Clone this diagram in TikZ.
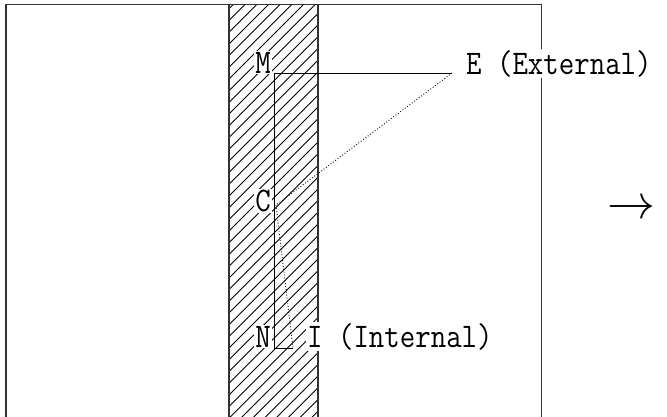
\documentclass[tikz,border=0pt]{standalone}
\usepackage{fontspec}
\begin{document}
\begin{tikzpicture}[x=1pt,y=-1pt,
  lbl/.style={font=\fontsize{30}{30}\selectfont\ttfamily, fill=white, inner sep=1pt, yscale=1.15},
  framestyle/.style={line width=1.5pt, draw=black!80},
  wire/.style={line width=1pt},
  dotwire/.style={line width=0.9pt, dotted},
  hatchline/.style={line width=0.9pt}]
\useasboundingbox (0,0) rectangle (667,416);
% hatched strip
\begin{scope}
  \clip (229,4.5) rectangle (318,430);
  \foreach \k in {-40,...,10} \draw[hatchline] (229+\k*11.7,430) -- ++(450,-450);
\end{scope}
% frame and strip borders
\draw[framestyle] (6,430) -- (6,4.5) -- (541.5,4.5) -- (541.5,430);
\draw[framestyle] (229,430) -- (229,4.5);
\draw[framestyle] (318,430) -- (318,4.5);
% points
\coordinate (M) at (274,73);
\coordinate (E) at (452,73);
\coordinate (N) at (274,348);
\coordinate (I) at (293,348);
\coordinate (C) at (276,205);
\draw[wire] (E) -- (M) -- (N) -- (I);
\draw[dotwire] (E) -- (C) -- (I);
% labels
\node[lbl, anchor=base east] (Ml) at (272,73) {M};
\node[lbl, anchor=east] (Cl) at (272,201) {C};
\node[lbl, anchor=base east] (Nl) at (272,347) {N};
\node[lbl, anchor=base west] (Il) at (306,347) {I (Internal)};
\node[lbl, anchor=base west] (El) at (465,74) {E (External)};
\node[scale=4.8, inner sep=0pt] (arr) at (631,210) {$\rightarrow$};
\end{tikzpicture}
\end{document}
